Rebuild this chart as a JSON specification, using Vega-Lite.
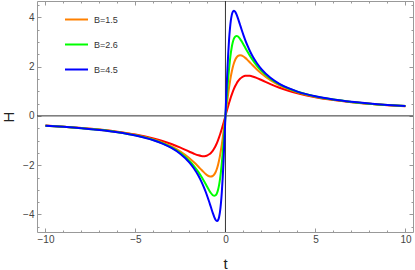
{
"$schema": "https://vega.github.io/schema/vega-lite/v6.json",
"width": 376, "height": 231,
"autosize": {"type": "none"},
"padding": {"left": 37, "top": 1, "right": 2, "bottom": 38},
"background": "white",
"config": {"view": {"stroke": "#999", "strokeWidth": 1}, "font": "Liberation Sans"},
"resolve": {"axis": {"x": "independent", "y": "independent"}},
"data": {"values": [
{"B":"ref","t":-10,"H":-0.394},{"B":"ref","t":-9,"H":-0.436},{"B":"ref","t":-8,"H":-0.489},{"B":"ref","t":-7,"H":-0.554},{"B":"ref","t":-6,"H":-0.64},{"B":"ref","t":-5,"H":-0.755},{"B":"ref","t":-4,"H":-0.914},{"B":"ref","t":-3.5,"H":-1.018},{"B":"ref","t":-3,"H":-1.143},{"B":"ref","t":-2.5,"H":-1.29},{"B":"ref","t":-2,"H":-1.455},{"B":"ref","t":-1.75,"H":-1.534},{"B":"ref","t":-1.5,"H":-1.6},{"B":"ref","t":-1.35,"H":-1.625},{"B":"ref","t":-1.22,"H":-1.633},{"B":"ref","t":-1.1,"H":-1.624},{"B":"ref","t":-1,"H":-1.6},{"B":"ref","t":-0.9,"H":-1.558},{"B":"ref","t":-0.81,"H":-1.503},{"B":"ref","t":-0.7,"H":-1.407},{"B":"ref","t":-0.62,"H":-1.316},{"B":"ref","t":-0.55,"H":-1.221},{"B":"ref","t":-0.47,"H":-1.093},{"B":"ref","t":-0.4,"H":-0.964},{"B":"ref","t":-0.35,"H":-0.863},{"B":"ref","t":-0.3,"H":-0.755},{"B":"ref","t":-0.25,"H":-0.64},{"B":"ref","t":-0.2,"H":-0.519},{"B":"ref","t":-0.15,"H":-0.394},{"B":"ref","t":-0.1,"H":-0.265},{"B":"ref","t":-0.05,"H":-0.133},{"B":"ref","t":0,"H":0},
{"B":"ref","t":0.05,"H":0.133},{"B":"ref","t":0.1,"H":0.265},{"B":"ref","t":0.15,"H":0.394},{"B":"ref","t":0.2,"H":0.519},{"B":"ref","t":0.25,"H":0.64},{"B":"ref","t":0.3,"H":0.755},{"B":"ref","t":0.35,"H":0.863},{"B":"ref","t":0.4,"H":0.964},{"B":"ref","t":0.47,"H":1.093},{"B":"ref","t":0.55,"H":1.221},{"B":"ref","t":0.62,"H":1.316},{"B":"ref","t":0.7,"H":1.407},{"B":"ref","t":0.81,"H":1.503},{"B":"ref","t":0.9,"H":1.558},{"B":"ref","t":1,"H":1.6},{"B":"ref","t":1.1,"H":1.624},{"B":"ref","t":1.22,"H":1.633},{"B":"ref","t":1.35,"H":1.625},{"B":"ref","t":1.5,"H":1.6},{"B":"ref","t":1.75,"H":1.534},{"B":"ref","t":2,"H":1.455},{"B":"ref","t":2.5,"H":1.29},{"B":"ref","t":3,"H":1.143},{"B":"ref","t":3.5,"H":1.018},{"B":"ref","t":4,"H":0.914},{"B":"ref","t":5,"H":0.755},{"B":"ref","t":6,"H":0.64},{"B":"ref","t":7,"H":0.554},{"B":"ref","t":8,"H":0.489},{"B":"ref","t":9,"H":0.436},{"B":"ref","t":10,"H":0.394},
{"B":"1.5","t":-10,"H":-0.397},{"B":"1.5","t":-9,"H":-0.441},{"B":"1.5","t":-8,"H":-0.495},{"B":"1.5","t":-7,"H":-0.564},{"B":"1.5","t":-6,"H":-0.655},{"B":"1.5","t":-5,"H":-0.779},{"B":"1.5","t":-4,"H":-0.96},{"B":"1.5","t":-3.5,"H":-1.084},{"B":"1.5","t":-3,"H":-1.242},{"B":"1.5","t":-2.5,"H":-1.447},{"B":"1.5","t":-2,"H":-1.717},{"B":"1.5","t":-1.75,"H":-1.881},{"B":"1.5","t":-1.5,"H":-2.062},{"B":"1.5","t":-1.35,"H":-2.175},{"B":"1.5","t":-1.22,"H":-2.272},{"B":"1.5","t":-1.1,"H":-2.353},{"B":"1.5","t":-1,"H":-2.41},{"B":"1.5","t":-0.9,"H":-2.449},{"B":"1.5","t":-0.81,"H":-2.462},{"B":"1.5","t":-0.7,"H":-2.435},{"B":"1.5","t":-0.62,"H":-2.375},{"B":"1.5","t":-0.55,"H":-2.286},{"B":"1.5","t":-0.47,"H":-2.134},{"B":"1.5","t":-0.4,"H":-1.951},{"B":"1.5","t":-0.35,"H":-1.789},{"B":"1.5","t":-0.3,"H":-1.6},{"B":"1.5","t":-0.25,"H":-1.384},{"B":"1.5","t":-0.2,"H":-1.143},{"B":"1.5","t":-0.15,"H":-0.879},{"B":"1.5","t":-0.1,"H":-0.597},{"B":"1.5","t":-0.05,"H":-0.302},{"B":"1.5","t":0,"H":0},
{"B":"1.5","t":0.05,"H":0.302},{"B":"1.5","t":0.1,"H":0.597},{"B":"1.5","t":0.15,"H":0.879},{"B":"1.5","t":0.2,"H":1.143},{"B":"1.5","t":0.25,"H":1.384},{"B":"1.5","t":0.3,"H":1.6},{"B":"1.5","t":0.35,"H":1.789},{"B":"1.5","t":0.4,"H":1.951},{"B":"1.5","t":0.47,"H":2.134},{"B":"1.5","t":0.55,"H":2.286},{"B":"1.5","t":0.62,"H":2.375},{"B":"1.5","t":0.7,"H":2.435},{"B":"1.5","t":0.81,"H":2.462},{"B":"1.5","t":0.9,"H":2.449},{"B":"1.5","t":1,"H":2.41},{"B":"1.5","t":1.1,"H":2.353},{"B":"1.5","t":1.22,"H":2.272},{"B":"1.5","t":1.35,"H":2.175},{"B":"1.5","t":1.5,"H":2.062},{"B":"1.5","t":1.75,"H":1.881},{"B":"1.5","t":2,"H":1.717},{"B":"1.5","t":2.5,"H":1.447},{"B":"1.5","t":3,"H":1.242},{"B":"1.5","t":3.5,"H":1.084},{"B":"1.5","t":4,"H":0.96},{"B":"1.5","t":5,"H":0.779},{"B":"1.5","t":6,"H":0.655},{"B":"1.5","t":7,"H":0.564},{"B":"1.5","t":8,"H":0.495},{"B":"1.5","t":9,"H":0.441},{"B":"1.5","t":10,"H":0.397},
{"B":"2.6","t":-10,"H":-0.399},{"B":"2.6","t":-9,"H":-0.442},{"B":"2.6","t":-8,"H":-0.497},{"B":"2.6","t":-7,"H":-0.567},{"B":"2.6","t":-6,"H":-0.66},{"B":"2.6","t":-5,"H":-0.788},{"B":"2.6","t":-4,"H":-0.977},{"B":"2.6","t":-3.5,"H":-1.109},{"B":"2.6","t":-3,"H":-1.279},{"B":"2.6","t":-2.5,"H":-1.508},{"B":"2.6","t":-2,"H":-1.826},{"B":"2.6","t":-1.75,"H":-2.033},{"B":"2.6","t":-1.5,"H":-2.281},{"B":"2.6","t":-1.35,"H":-2.452},{"B":"2.6","t":-1.22,"H":-2.612},{"B":"2.6","t":-1.1,"H":-2.767},{"B":"2.6","t":-1,"H":-2.899},{"B":"2.6","t":-0.9,"H":-3.025},{"B":"2.6","t":-0.81,"H":-3.127},{"B":"2.6","t":-0.7,"H":-3.218},{"B":"2.6","t":-0.62,"H":-3.244},{"B":"2.6","t":-0.55,"H":-3.223},{"B":"2.6","t":-0.47,"H":-3.129},{"B":"2.6","t":-0.4,"H":-2.963},{"B":"2.6","t":-0.35,"H":-2.786},{"B":"2.6","t":-0.3,"H":-2.553},{"B":"2.6","t":-0.25,"H":-2.26},{"B":"2.6","t":-0.2,"H":-1.905},{"B":"2.6","t":-0.15,"H":-1.491},{"B":"2.6","t":-0.1,"H":-1.026},{"B":"2.6","t":-0.05,"H":-0.523},{"B":"2.6","t":0,"H":0},
{"B":"2.6","t":0.05,"H":0.523},{"B":"2.6","t":0.1,"H":1.026},{"B":"2.6","t":0.15,"H":1.491},{"B":"2.6","t":0.2,"H":1.905},{"B":"2.6","t":0.25,"H":2.26},{"B":"2.6","t":0.3,"H":2.553},{"B":"2.6","t":0.35,"H":2.786},{"B":"2.6","t":0.4,"H":2.963},{"B":"2.6","t":0.47,"H":3.129},{"B":"2.6","t":0.55,"H":3.223},{"B":"2.6","t":0.62,"H":3.244},{"B":"2.6","t":0.7,"H":3.218},{"B":"2.6","t":0.81,"H":3.127},{"B":"2.6","t":0.9,"H":3.025},{"B":"2.6","t":1,"H":2.899},{"B":"2.6","t":1.1,"H":2.767},{"B":"2.6","t":1.22,"H":2.612},{"B":"2.6","t":1.35,"H":2.452},{"B":"2.6","t":1.5,"H":2.281},{"B":"2.6","t":1.75,"H":2.033},{"B":"2.6","t":2,"H":1.826},{"B":"2.6","t":2.5,"H":1.508},{"B":"2.6","t":3,"H":1.279},{"B":"2.6","t":3.5,"H":1.109},{"B":"2.6","t":4,"H":0.977},{"B":"2.6","t":5,"H":0.788},{"B":"2.6","t":6,"H":0.66},{"B":"2.6","t":7,"H":0.567},{"B":"2.6","t":8,"H":0.497},{"B":"2.6","t":9,"H":0.442},{"B":"2.6","t":10,"H":0.399},
{"B":"4.5","t":-10,"H":-0.399},{"B":"4.5","t":-9,"H":-0.443},{"B":"4.5","t":-8,"H":-0.498},{"B":"4.5","t":-7,"H":-0.569},{"B":"4.5","t":-6,"H":-0.663},{"B":"4.5","t":-5,"H":-0.793},{"B":"4.5","t":-4,"H":-0.986},{"B":"4.5","t":-3.5,"H":-1.123},{"B":"4.5","t":-3,"H":-1.302},{"B":"4.5","t":-2.5,"H":-1.546},{"B":"4.5","t":-2,"H":-1.896},{"B":"4.5","t":-1.75,"H":-2.133},{"B":"4.5","t":-1.5,"H":-2.429},{"B":"4.5","t":-1.35,"H":-2.644},{"B":"4.5","t":-1.22,"H":-2.857},{"B":"4.5","t":-1.1,"H":-3.077},{"B":"4.5","t":-1,"H":-3.279},{"B":"4.5","t":-0.9,"H":-3.495},{"B":"4.5","t":-0.81,"H":-3.698},{"B":"4.5","t":-0.7,"H":-3.944},{"B":"4.5","t":-0.62,"H":-4.103},{"B":"4.5","t":-0.55,"H":-4.211},{"B":"4.5","t":-0.47,"H":-4.264},{"B":"4.5","t":-0.4,"H":-4.211},{"B":"4.5","t":-0.35,"H":-4.088},{"B":"4.5","t":-0.3,"H":-3.871},{"B":"4.5","t":-0.25,"H":-3.54},{"B":"4.5","t":-0.2,"H":-3.077},{"B":"4.5","t":-0.15,"H":-2.474},{"B":"4.5","t":-0.1,"H":-1.739},{"B":"4.5","t":-0.05,"H":-0.899},{"B":"4.5","t":0,"H":0},
{"B":"4.5","t":0.05,"H":0.899},{"B":"4.5","t":0.1,"H":1.739},{"B":"4.5","t":0.15,"H":2.474},{"B":"4.5","t":0.2,"H":3.077},{"B":"4.5","t":0.25,"H":3.54},{"B":"4.5","t":0.3,"H":3.871},{"B":"4.5","t":0.35,"H":4.088},{"B":"4.5","t":0.4,"H":4.211},{"B":"4.5","t":0.47,"H":4.264},{"B":"4.5","t":0.55,"H":4.211},{"B":"4.5","t":0.62,"H":4.103},{"B":"4.5","t":0.7,"H":3.944},{"B":"4.5","t":0.81,"H":3.698},{"B":"4.5","t":0.9,"H":3.495},{"B":"4.5","t":1,"H":3.279},{"B":"4.5","t":1.1,"H":3.077},{"B":"4.5","t":1.22,"H":2.857},{"B":"4.5","t":1.35,"H":2.644},{"B":"4.5","t":1.5,"H":2.429},{"B":"4.5","t":1.75,"H":2.133},{"B":"4.5","t":2,"H":1.896},{"B":"4.5","t":2.5,"H":1.546},{"B":"4.5","t":3,"H":1.302},{"B":"4.5","t":3.5,"H":1.123},{"B":"4.5","t":4,"H":0.986},{"B":"4.5","t":5,"H":0.793},{"B":"4.5","t":6,"H":0.663},{"B":"4.5","t":7,"H":0.569},{"B":"4.5","t":8,"H":0.498},{"B":"4.5","t":9,"H":0.443},{"B":"4.5","t":10,"H":0.399}
]},
"layer": [
{"data": {"values": [{}]},
 "mark": {"type": "rule", "color": "#333", "strokeWidth": 1},
 "encoding": {"x": {"datum": 0, "type": "quantitative",
   "axis": {"orient": "top", "title": null, "labels": false, "domain": false, "grid": false,
     "values": [-10,-9,-8,-7,-6,-5,-4,-3,-2,-1,0,1,2,3,4,5,6,7,8,9,10],
     "tickColor": "#999", "tickWidth": 1,
     "tickSize": {"condition": {"test": "datum.value % 5 === 0", "value": -4}, "value": -2}}}}},
{"data": {"values": [{}]},
 "mark": {"type": "rule", "color": "#333", "strokeWidth": 1},
 "encoding": {"y": {"datum": 0, "type": "quantitative",
   "axis": {"orient": "right", "title": null, "labels": false, "domain": false, "grid": false,
     "values": [-4.5,-4,-3.5,-3,-2.5,-2,-1.5,-1,-0.5,0,0.5,1,1.5,2,2.5,3,3.5,4,4.5],
     "tickColor": "#999", "tickWidth": 1,
     "tickSize": {"condition": {"test": "datum.value % 2 === 0", "value": -4}, "value": -2}}}}},
{"mark": {"type": "line", "strokeWidth": 2, "interpolate": "monotone"},
 "encoding": {
  "x": {"field": "t", "type": "quantitative",
    "scale": {"domain": [-10.47, 10.42], "nice": false, "zero": false},
    "axis": {"orient": "bottom", "title": "t", "domain": false, "grid": false,
      "values": [-10,-9,-8,-7,-6,-5,-4,-3,-2,-1,0,1,2,3,4,5,6,7,8,9,10],
      "format": "d", "labelExpr": "datum.value % 5 === 0 ? datum.label : ''",
      "labelFont": "Liberation Sans", "labelFontSize": 10, "labelColor": "#444", "labelPadding": 6,
      "labelFlush": false, "labelOverlap": false,
      "tickColor": "#999", "tickWidth": 1,
      "tickSize": {"condition": {"test": "datum.value % 5 === 0", "value": -4}, "value": -2},
      "titleFont": "Liberation Sans", "titleFontSize": 15, "titleFontWeight": "normal", "titleColor": "#222",
      "titleX": 188, "titleY": 36, "titleBaseline": "alphabetic"}},
  "y": {"field": "H", "type": "quantitative",
    "scale": {"domain": [-4.71, 4.66], "nice": false, "zero": false},
    "axis": {"orient": "left", "title": "H", "domain": false, "grid": false, "labels": true,
      "values": [-4.5,-4,-3.5,-3,-2.5,-2,-1.5,-1,-0.5,0,0.5,1,1.5,2,2.5,3,3.5,4,4.5],
      "labelExpr": "datum.value % 2 === 0 ? format(datum.value, 'd') : ''",
      "labelFont": "Liberation Sans", "labelFontSize": 10, "labelColor": "#444", "labelPadding": 7,
      "labelAlign": "right", "labelBaseline": "middle",
      "labelFlush": false, "labelOverlap": false,
      "tickColor": "#999", "tickWidth": 1,
      "tickSize": {"condition": {"test": "datum.value % 2 === 0", "value": -4}, "value": -2},
      "titleFont": "Liberation Sans", "titleFontSize": 15, "titleFontWeight": "normal", "titleColor": "#222",
      "titleX": -24, "titleY": 115.5, "titleAngle": -90, "titleBaseline": "alphabetic"}},
  "color": {"field": "B", "type": "nominal",
    "scale": {"domain": ["ref", "1.5", "2.6", "4.5"], "range": ["#ff0000", "#ff8000", "#00ff00", "#0000ff"]},
    "legend": {"orient": "none", "legendX": 27, "legendY": 6, "title": null,
      "values": ["1.5", "2.6", "4.5"], "labelExpr": "'B=' + datum.label",
      "symbolType": "stroke", "symbolSize": 529, "symbolStrokeWidth": 2,
      "labelFont": "Liberation Sans", "labelFontSize": 9, "labelColor": "#333", "labelOffset": 5,
      "rowPadding": 7, "padding": 0}}
 }}
]
}
